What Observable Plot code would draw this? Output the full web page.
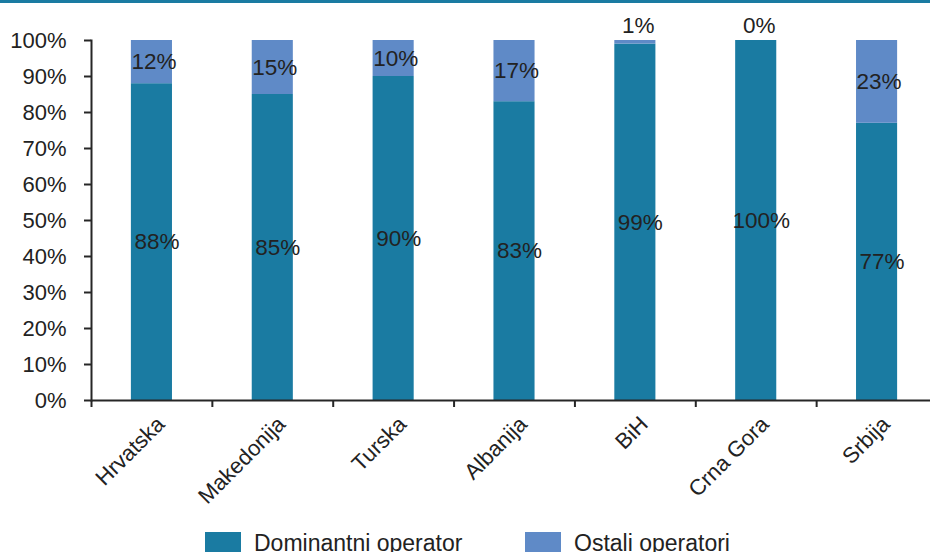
<!DOCTYPE html>
<html>
<head>
<meta charset="utf-8">
<script src="https://cdn.jsdelivr.net/npm/d3@7"></script>
<script src="https://cdn.jsdelivr.net/npm/@observablehq/plot@0.6"></script>
<style>
  html, body { margin: 0; padding: 0; background: #fff; }
  #fig { position: relative; width: 930px; height: 552px; overflow: hidden; border-top: 3px solid #1a7ba2; box-sizing: border-box; font-family: "Liberation Sans", Arial, sans-serif; color: #222; }
  #legend { position: absolute; left: 0; top: 529px; width: 930px; height: 30px; font-size: 23px; }
  .item { position: absolute; top: 0; display: flex; align-items: flex-start; }
  .sw { width: 36px; height: 26px; margin-right: 13px; }
  .lab { line-height: 23px; margin-top: 0px; white-space: nowrap; }
</style>
</head>
<body>
<div id="fig">
  <div id="chart"></div>
  <div id="legend"></div>
</div>
<script>
const countries = ["Hrvatska", "Makedonija", "Turska", "Albanija", "BiH", "Crna Gora", "Srbija"];
const dominant = [88, 85, 90, 83, 99, 100, 77];
const others = [12, 15, 10, 17, 1, 0, 23];
const seriesNames = ["Dominantni operator", "Ostali operatori"];
const seriesColors = ["#1a7ba2", "#5f8ac7"];
const yTicks = [0, 10, 20, 30, 40, 50, 60, 70, 80, 90, 100];

const rows = countries.map((c, i) => ({country: c, dom: dominant[i], oth: others[i]}));

const step = (937 - 91) / countries.length;

const chart = Plot.plot({
  width: 930,
  height: 522,
  marginTop: 37,
  marginBottom: 125,
  marginLeft: 91,
  marginRight: 0,
  style: {fontFamily: "'Liberation Sans', Arial, sans-serif", fontSize: "21px", color: "#222", background: "#fff"},
  x: {domain: countries, range: [91, 937], paddingInner: 0.66, paddingOuter: 0.33, round: false, label: null},
  y: {domain: [0, 100], label: null},
  marks: [
    Plot.barY(rows, {x: "country", y1: 0, y2: "dom", fill: seriesColors[0]}),
    Plot.barY(rows, {x: "country", y1: "dom", y2: d => d.dom + d.oth, fill: seriesColors[1]}),
    Plot.text(rows, {x: "country", y: d => d.dom / 2, text: d => d.dom + "%", dx: 5, fill: "#222", fontSize: 22.5}),
    Plot.text(rows.filter(d => d.oth >= 5), {x: "country", y: d => d.dom + d.oth / 2, text: d => d.oth + "%", dx: 2, fill: "#222", fontSize: 22.5}),
    Plot.text(rows.filter(d => d.oth < 5), {x: "country", y: d => d.dom + d.oth, text: d => d.oth + "%", dx: 3, dy: -15, fill: "#222", fontSize: 22.5}),
    Plot.axisY({ticks: yTicks, tickFormat: d => d + "%", tickSize: 7, tickPadding: 18, stroke: "#262626", strokeWidth: 2, label: null, fontSize: 22}),
    Plot.axisX({tickSize: 7, text: null, dx: -step / 2, stroke: "#262626", strokeWidth: 2, label: null}),
    Plot.axisX({tickSize: 0, tickRotate: -45, tickPadding: 14, dx: 9, dy: 6, label: null, fontSize: 22}),
    Plot.ruleY([0], {stroke: "#262626", strokeWidth: 2}),
    Plot.frame({anchor: "left", stroke: "#262626", strokeWidth: 2})
  ]
});
document.getElementById("chart").appendChild(chart);

const legend = document.getElementById("legend");
const lx = [205, 525];
seriesNames.forEach((n, i) => {
  const it = document.createElement("div");
  it.className = "item";
  it.style.left = lx[i] + "px";
  it.innerHTML = `<div class="sw" style="background:${seriesColors[i]}"></div><div class="lab">${n}</div>`;
  legend.appendChild(it);
});
</script>
</body>
</html>
